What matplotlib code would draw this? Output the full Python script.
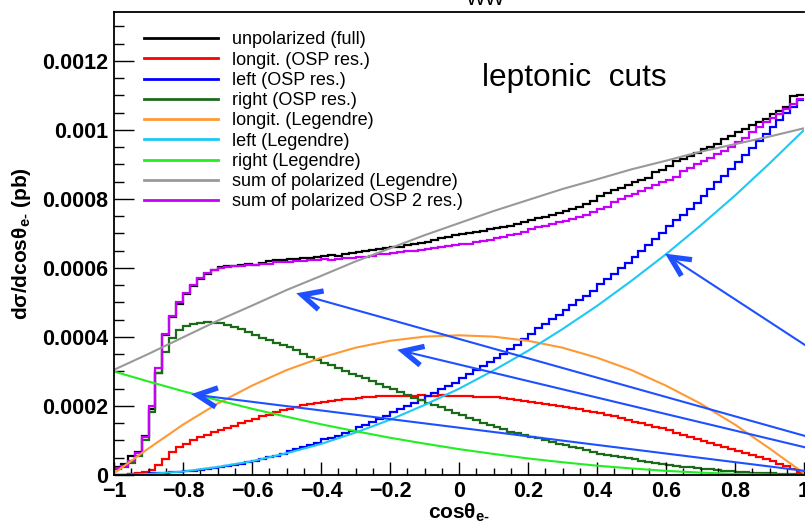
import numpy as np
import matplotlib.pyplot as plt
from matplotlib.lines import Line2D
from matplotlib.ticker import MultipleLocator
from matplotlib.transforms import IdentityTransform

plt.rcParams['font.family'] = ['Liberation Sans', 'DejaVu Sans']
plt.rcParams['mathtext.fontset'] = 'custom'
plt.rcParams['mathtext.rm'] = 'Liberation Sans:bold'
plt.rcParams['mathtext.it'] = 'Liberation Sans:bold'
plt.rcParams['mathtext.bf'] = 'Liberation Sans:bold'

# 100 bins in cos(theta_e-), contents in units of 1e-6 pb
bin_edges = np.linspace(-1.0, 1.0, 101)

unpol_full = [
    22, 32, 55, 66, 112, 190, 295, 405, 458, 497,
    525, 548, 568, 584, 593, 602, 606, 607, 609, 612,
    610, 615, 619, 623, 622, 625, 627, 630, 628, 632,
    635, 637, 636, 640, 643, 646, 650, 652, 654, 657,
    660, 662, 667, 670, 672, 676, 680, 686, 690, 695,
    698, 701, 704, 707, 712, 716, 719, 722, 728, 733,
    738, 745, 748, 753, 758, 765, 770, 776, 785, 795,
    810, 818, 826, 833, 840, 848, 855, 862, 878, 884,
    895, 910, 915, 925, 933, 945, 952, 960, 975, 982,
    995, 1002, 1015, 1022, 1032, 1045, 1055, 1068, 1098, 1100,
]

longit_osp = [
    0, 0, 2, 5, 10, 15, 30, 45, 68, 82,
    90, 100, 110, 117, 124, 130, 137, 142, 152, 157,
    162, 170, 175, 182, 188, 192, 197, 202, 206, 209,
    212, 214, 217, 219, 221, 223, 225, 226, 228, 229,
    229, 230, 230, 229, 231, 230, 229, 231, 229, 230,
    229, 228, 227, 226, 226, 225, 222, 220, 218, 215,
    212, 210, 207, 204, 201, 197, 194, 190, 186, 183,
    180, 175, 170, 165, 160, 155, 150, 145, 140, 135,
    129, 123, 117, 111, 105, 99, 93, 87, 81, 75,
    69, 63, 57, 51, 46, 40, 33, 25, 17, 8,
]

left_osp = [
    1, 1, 2, 3, 4, 5, 6, 7, 8, 9,
    11, 13, 15, 18, 20, 23, 26, 29, 33, 37,
    42, 46, 51, 56, 62, 70, 75, 81, 87, 94,
    103, 108, 114, 121, 128, 138, 145, 154, 162, 170,
    182, 190, 199, 208, 217, 229, 238, 248, 258, 268,
    281, 293, 305, 316, 328, 340, 352, 364, 378, 393,
    408, 425, 439, 452, 465, 479, 493, 506, 520, 534,
    553, 569, 584, 600, 615, 633, 650, 667, 685, 700,
    722, 738, 755, 771, 788, 810, 829, 848, 868, 887,
    908, 928, 948, 969, 989, 1008, 1028, 1048, 1068, 1088,
]

right_osp = [
    18, 22, 35, 55, 100, 183, 296, 357, 397, 420,
    433, 438, 441, 443, 442, 440, 434, 428, 422, 415,
    405, 397, 391, 384, 378, 370, 361, 352, 343, 334,
    326, 318, 310, 302, 294, 287, 280, 272, 264, 256,
    248, 240, 232, 224, 217, 210, 203, 196, 189, 181,
    173, 165, 158, 151, 144, 138, 132, 126, 121, 116,
    111, 106, 101, 96, 91, 86, 81, 77, 72, 68,
    62, 58, 55, 51, 48, 45, 42, 39, 36, 33,
    29, 26, 24, 22, 20, 18, 16, 14, 12, 11,
    9, 8, 7, 6, 5, 5, 4, 3, 3, 2,
]

sum_osp = [
    20, 25, 40, 64, 110, 200, 310, 410, 462, 500,
    527, 550, 570, 585, 594, 600, 604, 606, 607, 608,
    609, 611, 613, 616, 617, 617, 619, 620, 622, 624,
    625, 622, 626, 628, 630, 631, 633, 635, 640, 641,
    644, 646, 648, 650, 653, 656, 658, 661, 663, 666,
    669, 671, 676, 679, 682, 686, 690, 695, 699, 704,
    712, 718, 722, 727, 732, 737, 742, 748, 755, 762,
    770, 778, 790, 800, 808, 815, 823, 832, 840, 848,
    856, 864, 880, 890, 900, 910, 918, 930, 940, 952,
    965, 978, 995, 1010, 1022, 1035, 1045, 1060, 1075, 1090,
]

# Legendre fit curves, sampled every 0.1 (units of 1e-6 pb)
leg_x = [-1.0, -0.9, -0.8, -0.7, -0.6, -0.5, -0.4, -0.3, -0.2, -0.1, 0.0,
         0.1, 0.2, 0.3, 0.4, 0.5, 0.6, 0.7, 0.8, 0.9, 1.0]
longit_leg = [5, 77, 146, 207, 259, 304, 340, 369, 389, 401, 405,
              401, 389, 369, 340, 304, 259, 207, 146, 77, 5]
left_leg = [0, 3, 10, 23, 40, 63, 90, 123, 160, 203, 250,
            303, 360, 423, 490, 563, 640, 723, 810, 903, 1000]
right_leg = [300, 271, 243, 217, 192, 169, 147, 127, 108, 91, 75,
             61, 48, 37, 27, 19, 12, 7, 3, 1, 0]

# arrows: tip (x, value) and far end running off to the right
arrow_tips = [(0.612, 632), (-0.455, 522), (-0.162, 359), (-0.759, 232)]
arrow_tails = [(1.05, 346), (1.05, 100), (1.05, 69), (1.05, 6)]

labels = ['unpolarized (full)', 'longit. (OSP res.)', 'left (OSP res.)',
          'right (OSP res.)', 'longit. (Legendre)', 'left (Legendre)',
          'right (Legendre)', 'sum of polarized (Legendre)',
          'sum of polarized OSP 2 res.)']

c_black = '#000000'
c_red = '#ff0000'
c_blue = '#0000ff'
c_dkgreen = '#1b6b1b'
c_orange = '#ff9933'
c_cyan = '#1ec8f5'
c_green = '#22ee22'
c_gray = '#999999'
c_violet = '#c800fa'
c_arrow = '#1e50ff'

scale = 1e-6
fig = plt.figure(figsize=(8.05, 5.24), dpi=100)
ax = fig.add_axes([114 / 805, 49 / 524, 690 / 805, 463 / 524])
ax.set_xlim(-1, 1)
ax.set_ylim(0, 0.001342)

hw = 1.6
ax.stairs(np.array(unpol_full) * scale, bin_edges, baseline=None, color=c_black, lw=hw)
ax.stairs(np.array(longit_osp) * scale, bin_edges, baseline=None, color=c_red, lw=hw)
ax.stairs(np.array(left_osp) * scale, bin_edges, baseline=None, color=c_blue, lw=hw)
ax.stairs(np.array(right_osp) * scale, bin_edges, baseline=None, color=c_dkgreen, lw=hw)
ax.stairs(np.array(sum_osp) * scale, bin_edges, baseline=None, color=c_violet, lw=hw)

lx = np.array(leg_x)
ax.plot(lx, np.array(longit_leg) * scale, color=c_orange, lw=1.5)
ax.plot(lx, np.array(left_leg) * scale, color=c_cyan, lw=1.5)
ax.plot(lx, np.array(right_leg) * scale, color=c_green, lw=1.5)
sum_leg = np.array(longit_leg) + np.array(left_leg) + np.array(right_leg)
ax.plot(lx, sum_leg * scale, color=c_gray, lw=1.5)

# blue arrows with open chevron heads
for (tx, ty), (ex, ey) in zip(arrow_tips, arrow_tails):
    ax.plot([tx, ex], [ty * scale, ey * scale], color=c_arrow, lw=1.5, clip_on=False)
    p0 = ax.transData.transform((tx, ty * scale))
    p1 = ax.transData.transform((ex, ey * scale))
    d = (p1 - p0) / np.hypot(*(p1 - p0))
    arms = []
    for ang in (np.radians(26), -np.radians(26)):
        rot = np.array([d[0] * np.cos(ang) - d[1] * np.sin(ang),
                        d[0] * np.sin(ang) + d[1] * np.cos(ang)])
        arms.append(p0 + 22 * rot)
    fig.add_artist(Line2D([arms[0][0], p0[0], arms[1][0]],
                          [arms[0][1], p0[1], arms[1][1]],
                          transform=IdentityTransform(), color=c_arrow,
                          lw=3.8, solid_joinstyle='miter', solid_capstyle='butt'))

# axes and ticks
xticks = [-1, -0.8, -0.6, -0.4, -0.2, 0, 0.2, 0.4, 0.6, 0.8, 1]
yticks = [0, 0.0002, 0.0004, 0.0006, 0.0008, 0.001, 0.0012]
ax.set_xticks(xticks, [('%g' % v).replace('-', '\u2212') for v in xticks],
              fontweight='bold', fontsize=15.5)
ax.set_yticks(yticks, ['%g' % v for v in yticks], fontweight='bold', fontsize=15.5)
ax.xaxis.set_minor_locator(MultipleLocator(0.05))
ax.yaxis.set_minor_locator(MultipleLocator(0.00005))
ax.tick_params(axis='x', which='major', direction='in', length=9.5, width=1, pad=4)
ax.tick_params(axis='x', which='minor', direction='in', length=5, width=1)
ax.tick_params(axis='y', which='major', direction='in', length=14.5, width=1, pad=4)
ax.tick_params(axis='y', which='minor', direction='in', length=7.2, width=1)
ax.spines['right'].set_visible(False)
for s in ('left', 'bottom', 'top'):
    ax.spines[s].set_linewidth(1.3)

ax.set_xlabel('cos\u03b8$_{\\text{e-}}$', fontsize=15, fontweight='bold', labelpad=0)
ax.set_ylabel('d\u03c3/dcos\u03b8$_{\\text{e-}}$ (pb)', fontsize=15, fontweight='bold', labelpad=7)

handles = [Line2D([], [], color=c, lw=2) for c in
           (c_black, c_red, c_blue, c_dkgreen, c_orange, c_cyan, c_green, c_gray, c_violet)]
ax.legend(handles, labels, loc='upper left', bbox_to_anchor=(0.0435, 0.958),
          frameon=False, fontsize=13, handlelength=4.1, handletextpad=0.75,
          labelspacing=0.18, borderpad=0, borderaxespad=0)

fig.text(482 / 805, 1 - 86 / 524, 'leptonic  cuts', ha='left', va='baseline', fontsize=22.8)
fig.text(486 / 805, 1 - 5 / 524, 'WW', ha='center', va='baseline', fontsize=15)

fig.savefig('out.png', dpi=100)
